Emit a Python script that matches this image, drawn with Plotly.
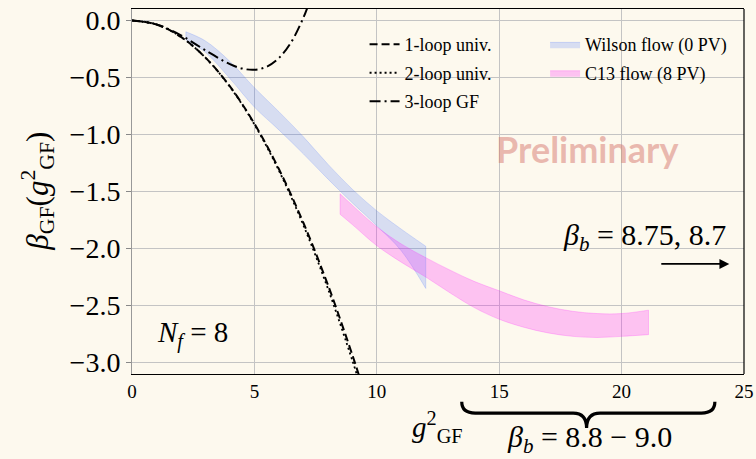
import plotly.graph_objects as go

# ---------------- data ----------------
x_1loop = [0, 1, 2, 3, 4, 5, 6, 7, 8, 9, 9.3]
y_1loop = [0, -0.036, -0.145, -0.326, -0.579, -0.905, -1.303, -1.774, -2.317, -2.932, -3.131]

x_2loop = [0, 1, 2, 3, 4, 5, 6, 7, 8, 9, 9.25]
y_2loop = [0, -0.036, -0.145, -0.327, -0.582, -0.912, -1.316, -1.795, -2.350, -2.980, -3.150]

x_3loop = [0, 1, 2, 3, 4, 4.5, 5, 5.5, 6, 6.5, 7, 7.2]
y_3loop = [0, -0.035, -0.131, -0.262, -0.384, -0.422, -0.433, -0.406, -0.330, -0.192, 0.023, 0.133]

x_wilson = [2.2, 3, 4, 5, 6, 7, 8, 9, 10, 11, 12]
wilson_hi = [-0.10, -0.18, -0.36, -0.59, -0.80, -1.02, -1.26, -1.48, -1.67, -1.83, -1.98]
wilson_lo = [-0.17, -0.28, -0.51, -0.76, -0.96, -1.17, -1.39, -1.60, -1.80, -2.02, -2.35]

x_c13 = [8.5, 9, 10, 11, 12, 13, 14, 15, 16, 17, 18, 19, 20, 21.1]
c13_hi = [-1.52, -1.62, -1.81, -1.96, -2.08, -2.19, -2.29, -2.37, -2.45, -2.51, -2.55, -2.57, -2.57, -2.54]
c13_lo = [-1.70, -1.79, -1.975, -2.12, -2.25, -2.39, -2.52, -2.62, -2.69, -2.74, -2.77, -2.78, -2.77, -2.755]

x_ticks = [0, 5, 10, 15, 20, 25]
y_ticks = [-3.0, -2.5, -2.0, -1.5, -1.0, -0.5, 0.0]

BG = "#fdf9ee"
SERIF = "Liberation Serif"
BLUE_FILL = "rgba(65,110,255,0.2)"
BLUE_EDGE = "rgba(65,110,255,0.25)"
PINK_FILL = "rgba(255,0,255,0.22)"
PINK_EDGE = "rgba(255,0,255,0.25)"

fig = go.Figure()

# Wilson band: lower edge, then upper edge filled to it
fig.add_trace(go.Scatter(
    x=x_wilson, y=wilson_lo, mode="lines", showlegend=False, hoverinfo="skip",
    line=dict(color=BLUE_EDGE, width=0.8, shape="spline"), legend="legend2"))
fig.add_trace(go.Scatter(
    x=x_wilson, y=wilson_hi, mode="lines", fill="tonexty", fillcolor=BLUE_FILL,
    line=dict(color=BLUE_EDGE, width=0.8, shape="spline"),
    name="Wilson flow (0 PV)", legend="legend2", legendgroup="w"))
# C13 band
fig.add_trace(go.Scatter(
    x=x_c13, y=c13_lo, mode="lines", showlegend=False, hoverinfo="skip",
    line=dict(color=PINK_EDGE, width=0.8, shape="spline"), legend="legend2"))
fig.add_trace(go.Scatter(
    x=x_c13, y=c13_hi, mode="lines", fill="tonexty", fillcolor=PINK_FILL,
    line=dict(color=PINK_EDGE, width=0.8, shape="spline"),
    name="C13 flow (8 PV)", legend="legend2", legendgroup="c"))
# vertical end caps of the bands
for xs, lo, hi, col in [(x_wilson, wilson_lo, wilson_hi, BLUE_EDGE),
                        (x_c13, c13_lo, c13_hi, PINK_EDGE)]:
    for i in (0, -1):
        fig.add_trace(go.Scatter(
            x=[xs[i], xs[i]], y=[lo[i], hi[i]], mode="lines", showlegend=False,
            hoverinfo="skip", line=dict(color=col, width=0.8)))

# curves
fig.add_trace(go.Scatter(
    x=x_2loop, y=y_2loop, mode="lines", name="2-loop univ.",
    line=dict(color="black", width=1.8, dash="2px,3px", shape="spline"),
    legendgroup="b", legendrank=2))
fig.add_trace(go.Scatter(
    x=x_1loop, y=y_1loop, mode="lines", name="1-loop univ.",
    line=dict(color="black", width=2, dash="8px,4px", shape="spline"),
    legendgroup="a", legendrank=1))
fig.add_trace(go.Scatter(
    x=x_3loop, y=y_3loop, mode="lines", name="3-loop GF",
    line=dict(color="black", width=2, dash="11px,4px,2px,4px", shape="spline"),
    legendgroup="d", legendrank=3))

# brace below the x axis (x in data units, y in paper units)
xl, xt, xr = 13.47, 18.57, 23.81
d = 0.55
ye, ym, yt = -0.076, -0.107, -0.148
brace = (f"M {xl} {ye} Q {xl} {ym} {xl + d} {ym} L {xt - d} {ym} "
         f"Q {xt} {ym} {xt} {yt} Q {xt} {ym} {xt + d} {ym} "
         f"L {xr - d} {ym} Q {xr} {ym} {xr} {ye}")

shapes = [
    dict(type="path", path=brace, xref="x", yref="paper",
         line=dict(color="black", width=3.2)),
    dict(type="line", xref="paper", yref="paper", x0=1, x1=1, y0=0, y1=1,
         line=dict(color="black", width=1.2)),
]

annotations = [
    dict(text="Preliminary", x=18.62, y=-1.13, xref="x", yref="y",
         xanchor="center", yanchor="middle", showarrow=False,
         font=dict(family="Lato", size=36, color="rgba(214,120,110,0.5)", weight="bold")),
    dict(text="<i>N</i><sub><i>f</i></sub> = 8", x=2.46, y=-2.75, xref="x", yref="y",
         xanchor="center", yanchor="middle", showarrow=False,
         font=dict(family=SERIF, size=29, color="black")),
    dict(text="<i>β</i><sub><i>b</i></sub> = 8.75, 8.7", x=20.92, y=-1.90, xref="x", yref="y",
         xanchor="center", yanchor="middle", showarrow=False,
         font=dict(family=SERIF, size=30, color="black")),
    dict(text="", x=24.4, y=-2.135, ax=21.56, ay=-2.135, xref="x", yref="y",
         axref="x", ayref="y", showarrow=True, arrowhead=2, arrowsize=1.1,
         arrowwidth=1.8, arrowcolor="black"),
    dict(text="<i>β</i><sub><i>b</i></sub> = 8.8 − 9.0", x=18.7, y=-0.178, xref="x", yref="paper",
         xanchor="center", yanchor="middle", showarrow=False,
         font=dict(family=SERIF, size=30, color="black")),
    dict(text="<i>g</i><sup>2</sup><sub>GF</sub>", x=12.46, y=-0.145, xref="x", yref="paper",
         xanchor="center", yanchor="middle", showarrow=False,
         font=dict(family=SERIF, size=29, color="black")),
    dict(text="<i>β</i><sub>GF</sub>(<i>g</i><sup>2</sup><sub>GF</sub>)", x=-0.155, y=0.50,
         xref="paper", yref="paper", textangle=-90, xanchor="center", yanchor="middle",
         showarrow=False, font=dict(family=SERIF, size=31, color="black")),
]

fig.update_layout(
    width=756, height=459,
    margin=dict(l=132, r=12, t=9, b=85, autoexpand=False),
    paper_bgcolor=BG, plot_bgcolor=BG,
    font=dict(family=SERIF, color="black"),
    shapes=shapes, annotations=annotations,
    legend=dict(x=0.38, y=0.953, xanchor="left", yanchor="top",
                bgcolor="rgba(0,0,0,0)", borderwidth=0,
                font=dict(family=SERIF, size=18, color="black"),
                traceorder="grouped", tracegroupgap=2),
    legend2=dict(x=0.675, y=0.953, xanchor="left", yanchor="top",
                 bgcolor="rgba(0,0,0,0)", borderwidth=0,
                 font=dict(family=SERIF, size=18, color="black"),
                 traceorder="grouped", tracegroupgap=2),
    xaxis=dict(range=[0, 25], tickvals=x_ticks, ticktext=[str(v) for v in x_ticks],
               showgrid=True, gridcolor="#c4c4c4", gridwidth=1,
               showline=True, linecolor="black", linewidth=1.2, mirror=True,
               ticks="", zeroline=False, ticklabelstandoff=0, automargin=False,
               tickfont=dict(family=SERIF, size=19, color="black")),
    yaxis=dict(range=[-3.1, 0.1], tickvals=y_ticks, tickformat=".1f",
               showgrid=True, gridcolor="#c4c4c4", gridwidth=1,
               showline=True, linecolor="#999999", linewidth=1, mirror=False,
               ticks="outside", ticklen=5, tickcolor="#888888",
               zeroline=False, automargin=False,
               tickfont=dict(family=SERIF, size=28, color="black")),
)

fig.write_html("out.html", config={"displayModeBar": False},
               post_script="document.body.style.margin='0';document.body.style.overflow='hidden';")
